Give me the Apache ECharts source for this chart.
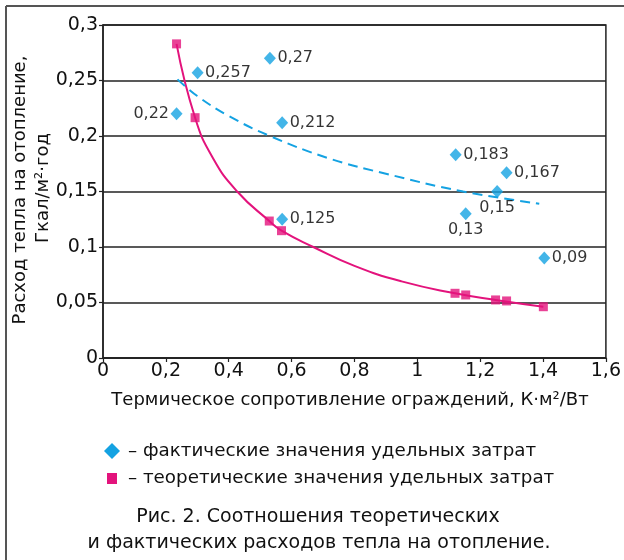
<!DOCTYPE html>
<html>
<head>
<meta charset="utf-8">
<script src="https://cdn.jsdelivr.net/npm/echarts@6/dist/echarts.min.js"></script>
<style>
  html, body { margin: 0; padding: 0; background: #fff; }
  #chart { width: 624px; height: 560px; }
</style>
</head>
<body>
<div id="chart"></div>
<script>
// Фактические удельные затраты (ромбы)
const actualR = [0.234, 0.301, 0.531, 0.570, 0.570, 1.122, 1.284, 1.254, 1.154, 1.404];
const actualQ = [0.22, 0.257, 0.27, 0.212, 0.125, 0.183, 0.167, 0.15, 0.13, 0.09];

// Теоретические удельные затраты (квадраты)
const theoR = [0.234, 0.293, 0.529, 0.568, 1.120, 1.154, 1.249, 1.284, 1.401];
const theoQ = [0.283, 0.2165, 0.1234, 0.1147, 0.0583, 0.0568, 0.0523, 0.0514, 0.0462];

// Кривая теоретических значений
const curveR = [0.234, 0.293, 0.35, 0.427, 0.529, 0.568, 0.669, 0.80, 0.95, 1.120, 1.249, 1.401];
const curveQ = [0.283, 0.2165, 0.180, 0.150, 0.1234, 0.1147, 0.100, 0.083, 0.069, 0.0583, 0.0523, 0.0462];

// Линия тренда фактических значений (пунктир)
const trendR = [0.237, 0.30, 0.40, 0.531, 0.717, 0.90, 1.146, 1.388];
const trendQ = [0.251, 0.236, 0.218, 0.200, 0.180, 0.166, 0.150, 0.139];

const xTicks = [0, 0.2, 0.4, 0.6, 0.8, 1, 1.2, 1.4, 1.6];
const yTicks = [0, 0.05, 0.1, 0.15, 0.2, 0.25, 0.3];

const BLUE = '#14a2e2';
const PINK = '#e3137c';
const INK = '#111';
const FONT = '"DejaVu Sans", Verdana, sans-serif';

const fmt = v => String(Math.round(v * 1000) / 1000).replace('.', ',');

// где подпись стоит относительно ромба
const labelPos = ['left', 'right', 'right', 'right', 'right', 'right', 'right', 'bottom', 'bottom', 'right'];

const pairs = (xs, ys) => xs.map((x, i) => [x, ys[i]]);

const chart = echarts.init(document.getElementById('chart'), null, { renderer: 'canvas' });

chart.setOption({
  animation: false,
  textStyle: { fontFamily: FONT },
  grid: {
    left: 103, right: 18, top: 25, bottom: 202,
    show: true, borderColor: '#222', borderWidth: 1.5, backgroundColor: 'transparent'
  },
  xAxis: {
    type: 'value',
    min: xTicks[0], max: xTicks[xTicks.length - 1], interval: 0.2,
    axisLine: { onZero: false, lineStyle: { color: '#222', width: 1.5 } },
    axisTick: { show: true, length: 4, lineStyle: { color: '#222', width: 1.2 } },
    splitLine: { show: false },
    axisLabel: { color: INK, fontSize: 19, margin: 4, formatter: fmt, fontFamily: FONT }
  },
  yAxis: {
    type: 'value',
    min: yTicks[0], max: yTicks[yTicks.length - 1], interval: 0.05,
    axisLine: { show: true, lineStyle: { color: '#222', width: 1.5 } },
    axisTick: { show: true, length: 4, lineStyle: { color: '#222', width: 1.2 } },
    splitLine: { show: true, lineStyle: { color: '#222', width: 1.5 } },
    axisLabel: { color: INK, fontSize: 19, margin: 5, formatter: fmt, fontFamily: FONT }
  },
  series: [
    {
      type: 'line',
      data: pairs(curveR, curveQ),
      smooth: 0.5,
      symbol: 'none',
      lineStyle: { color: PINK, width: 2 },
      z: 3
    },
    {
      type: 'line',
      data: pairs(trendR, trendQ),
      smooth: 0.4,
      symbol: 'none',
      lineStyle: { color: BLUE, width: 2, type: [10, 6] },
      z: 3
    },
    {
      type: 'scatter',
      data: pairs(theoR, theoQ),
      symbol: 'rect',
      symbolSize: 9,
      itemStyle: { color: PINK },
      z: 4
    },
    {
      type: 'scatter',
      data: actualR.map((x, i) => ({
        value: [x, actualQ[i]],
        label: { position: labelPos[i] }
      })),
      symbol: 'diamond',
      symbolSize: [12, 13],
      itemStyle: { color: BLUE },
      label: {
        show: true,
        formatter: p => fmt(p.value[1]),
        color: '#000',
        fontSize: 16,
        fontFamily: FONT,
        distance: 1.5
      },
      z: 5
    }
  ],
  graphic: [
    // рамка рисунка
    { type: 'line', shape: { x1: 6, y1: 6, x2: 6, y2: 560 }, style: { stroke: '#555', lineWidth: 2 } },
    { type: 'line', shape: { x1: 6, y1: 6, x2: 624, y2: 6 }, style: { stroke: '#555', lineWidth: 2 } },
    // подпись оси Y
    {
      type: 'text', x: 20, y: 190, rotation: Math.PI / 2,
      style: { text: 'Расход тепла на отопление,', font: '18px ' + FONT, fill: INK, align: 'center', verticalAlign: 'middle' }
    },
    {
      type: 'text', x: 43, y: 188, rotation: Math.PI / 2,
      style: { text: 'Гкал/м²·год', font: '18px ' + FONT, fill: INK, align: 'center', verticalAlign: 'middle' }
    },
    // подпись оси X
    {
      type: 'text', x: 350, y: 400,
      style: { text: 'Термическое сопротивление ограждений, К·м²/Вт', font: '18px ' + FONT, fill: INK, align: 'center', verticalAlign: 'middle' }
    },
    // легенда
    { type: 'polygon', shape: { points: [[112, 443], [120, 451], [112, 459], [104, 451]] }, style: { fill: BLUE } },
    {
      type: 'text', x: 128, y: 451,
      style: { text: '– фактические значения удельных затрат', font: '18.3px ' + FONT, fill: INK, align: 'left', verticalAlign: 'middle' }
    },
    { type: 'rect', shape: { x: 107, y: 473, width: 10, height: 11 }, style: { fill: PINK } },
    {
      type: 'text', x: 128, y: 478,
      style: { text: '– теоретические значения удельных затрат', font: '18.3px ' + FONT, fill: INK, align: 'left', verticalAlign: 'middle' }
    },
    // подпись рисунка
    {
      type: 'text', x: 318, y: 517,
      style: { text: 'Рис. 2. Соотношения теоретических', font: '19px ' + FONT, fill: INK, align: 'center', verticalAlign: 'middle' }
    },
    {
      type: 'text', x: 319, y: 543,
      style: { text: 'и фактических расходов тепла на отопление.', font: '19px ' + FONT, fill: INK, align: 'center', verticalAlign: 'middle' }
    }
  ]
});
</script>
</body>
</html>
